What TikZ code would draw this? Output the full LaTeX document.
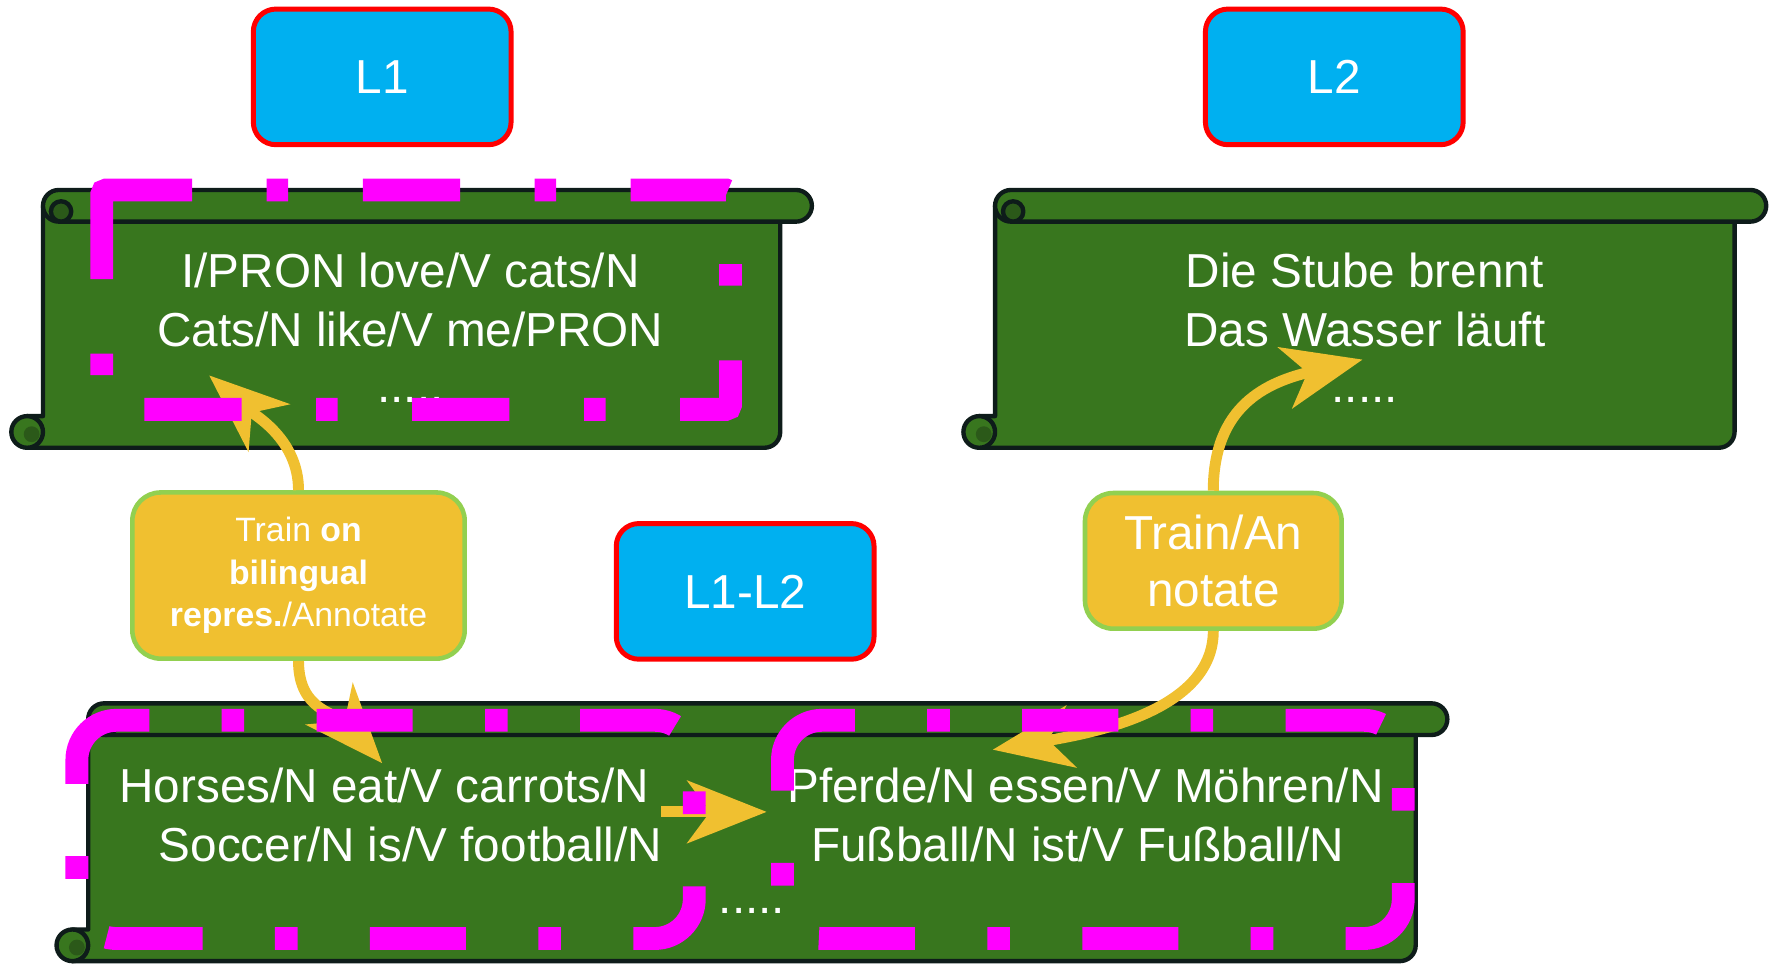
\documentclass[tikz,border=0pt]{standalone}
\usepackage{fontspec}
\setmainfont{Liberation Sans}
\usetikzlibrary{arrows.meta}
\definecolor{sky}{HTML}{00B0F0}
\definecolor{redx}{HTML}{FF0000}
\definecolor{leaf}{HTML}{38761E}
\definecolor{leafdk}{HTML}{2B5919}
\definecolor{ink}{HTML}{0E1C1A}
\definecolor{gold}{HTML}{F0C030}
\definecolor{lime}{HTML}{92D050}
\definecolor{pink}{HTML}{FF00FF}

\begin{document}
\begin{tikzpicture}[
  x=0.02cm,y=-0.02cm,
  lang/.style={draw=redx,line width=2.5pt,rounded corners=0.4cm,fill=sky,text=white,
               minimum width=4.56cm,minimum height=2.4cm,font=\fontsize{24}{29.5}\selectfont},
  task/.style={draw=lime,line width=2.3pt,rounded corners=0.5cm,fill=gold,text=white,align=center},
  scroll/.style={draw=ink,line width=2.2pt,fill=leaf,line join=round},
  txt/.style={text=white,anchor=base,inner sep=0pt,font=\fontsize{24}{29.5}\selectfont},
  flow/.style={draw=gold,line width=5.5pt,-{Stealth[length=1.4cm,width=1.1cm,inset=0.4cm]}},
  span/.style={draw=pink,line width=11.5pt,dash pattern=on 1.7cm off 1.28cm on 0.4cm off 1.28cm}
]
\useasboundingbox (0,0) rectangle (1568,852);

% scrolls: left/right/top/bottom
\foreach \l/\r/\t/\b in {10/718/168/396,852/1562/168/396,50/1280/622/850}{
  \filldraw[scroll] (\l+28,\t+14) -- (\l+28,\b-28) -- (\l+14,\b-28) -- (\l+14,\b)
    -- (\r-42,\b) arc[start angle=90,end angle=0,radius=14] -- (\r-28,\t+14) -- cycle;
  \filldraw[scroll,rounded corners=0.28cm] (\l+28,\t) rectangle (\r,\t+28);
  \filldraw[scroll,fill=leafdk] (\l+44,\t+19) circle[radius=9];
  \filldraw[scroll] (\l+14,\b-14) circle[radius=14];
  \fill[leafdk] (\l+18,\b-12) circle[radius=7];
}

\node[lang] (l1) at (338,68) {L1};
\node[lang] (l2) at (1180,68) {L2};
\node[lang] (l12) at (659,523) {L1-L2};

\node[txt] (en1) at (363,254) {I/PRON love/V cats/N};
\node[txt] (en2) at (363,306) {Cats/N like/V me/PRON};
\node[txt] (en3) at (363,356) {.....};
\node[txt] (de1) at (1207,254) {Die Stube brennt};
\node[txt] (de2) at (1207,306) {Das Wasser läuft};
\node[txt] (de3) at (1207,356) {.....};
\node[txt] (hs1) at (340,710) {Horses/N eat/V carrots/N};
\node[txt] (hs2) at (363,762) {Soccer/N is/V football/N};
\node[txt] (pf1) at (960,710) {Pferde/N essen/V Möhren/N};
\node[txt] (pf2) at (953,762) {Fußball/N ist/V Fußball/N};
\node[txt] (mix3) at (665,808) {.....};

\node[task,minimum width=5.88cm,minimum height=2.94cm,font=\fontsize{17}{21.3}\selectfont]
  (tr1) at (264,509) {Train \textbf{on}\\\textbf{bilingual}\\\textbf{repres.}/Annotate};
\node[task,minimum width=4.54cm,minimum height=2.4cm,font=\fontsize{24}{29}\selectfont]
  (tr2) at (1073,496) {Train/An\\notate};

\coordinate (p1) at (185,332);
\coordinate (p2) at (338,675);
\coordinate (p3) at (1205,318);
\coordinate (p4) at (878,663);
\coordinate (q1) at (585,718);
\coordinate (q2) at (678,718);

\draw[flow] (tr1.north) .. controls +(0,-45) and +(40,35) .. (p1);
\draw[flow] (tr1.south) .. controls +(0,45) and +(-40,-45) .. (p2);
\draw[flow] (tr2.north) .. controls +(0,-75) and +(-85,20) .. (p3);
\draw[flow] (tr2.south) .. controls +(0,70) and +(90,-15) .. (p4);
\draw[flow] (q1) -- (q2);

% annotated spans
\draw[span,rounded corners=0.08cm,dash pattern=on 1.72cm off 1.32cm on 0.38cm off 1.32cm]
  (90,180) -- (90,168) -- (646,168) -- (646,362) -- (90,362) -- cycle;
\draw[span,rounded corners=0.7cm] (68,708) -- (68,637) -- (614,637) -- (614,830) -- (68,830) -- cycle;
\draw[span,rounded corners=0.7cm] (692,708) -- (692,637) -- (1241,637) -- (1241,830) -- (692,830) -- cycle;
\end{tikzpicture}
\end{document}
